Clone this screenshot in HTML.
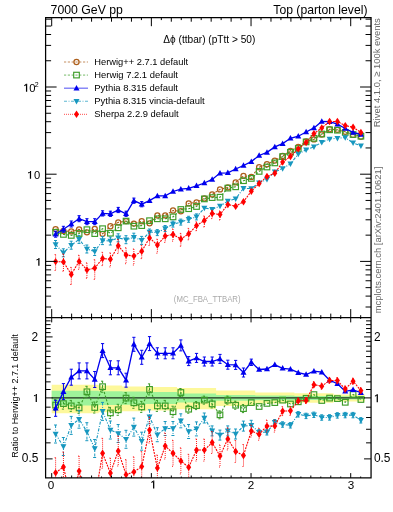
<!DOCTYPE html>
<html><head><meta charset="utf-8"><style>
html,body{margin:0;padding:0;background:#fff;}
svg{display:block;will-change:transform;}
text{font-family:"Liberation Sans", sans-serif;}
</style></head><body>
<svg width="393" height="512" viewBox="0 0 393 512">
<defs>
<clipPath id="cm"><rect x="45.6" y="17.7" width="325.46" height="299.9"/></clipPath>
<clipPath id="cr"><rect x="45.6" y="317.6" width="325.46" height="160.3"/></clipPath>
</defs>
<rect width="393" height="512" fill="#fff"/>
<path d="M51.7,384.8 L59.53,384.8 L59.53,384.8 L67.36,384.8 L67.36,384.8 L75.18,384.8 L75.18,384.8 L83.01,384.8 L83.01,384.8 L90.84,384.8 L90.84,384.8 L98.67,384.8 L98.67,385.6 L106.5,385.6 L106.5,385.6 L114.32,385.6 L114.32,385.6 L122.15,385.6 L122.15,386.4 L129.98,386.4 L129.98,386.4 L137.81,386.4 L137.81,386.4 L145.64,386.4 L145.64,386.9 L153.46,386.9 L153.46,386.9 L161.29,386.9 L161.29,386.9 L169.12,386.9 L169.12,386.9 L176.95,386.9 L176.95,387.9 L184.78,387.9 L184.78,387.9 L192.6,387.9 L192.6,387.9 L200.43,387.9 L200.43,387.9 L208.26,387.9 L208.26,387.9 L216.09,387.9 L216.09,390.4 L223.92,390.4 L223.92,390.4 L231.74,390.4 L231.74,390.4 L239.57,390.4 L239.57,390.4 L247.4,390.4 L247.4,390.4 L255.23,390.4 L255.23,392.6 L263.06,392.6 L263.06,392.6 L270.88,392.6 L270.88,392.6 L278.71,392.6 L278.71,392.6 L286.54,392.6 L286.54,392.6 L294.37,392.6 L294.37,393.3 L302.2,393.3 L302.2,393.3 L310.02,393.3 L310.02,393.3 L317.85,393.3 L317.85,393.3 L325.68,393.3 L325.68,393.3 L333.51,393.3 L333.51,394.4 L341.34,394.4 L341.34,394.4 L349.16,394.4 L349.16,394.4 L356.99,394.4 L356.99,394.4 L364.82,394.4 L364.82,401.55 L356.99,401.55 L356.99,401.55 L349.16,401.55 L349.16,401.55 L341.34,401.55 L341.34,401.55 L333.51,401.55 L333.51,402.75 L325.68,402.75 L325.68,402.75 L317.85,402.75 L317.85,402.75 L310.02,402.75 L310.02,402.75 L302.2,402.75 L302.2,402.75 L294.37,402.75 L294.37,403.54 L286.54,403.54 L286.54,403.54 L278.71,403.54 L278.71,403.54 L270.88,403.54 L270.88,403.54 L263.06,403.54 L263.06,403.54 L255.23,403.54 L255.23,406.1 L247.4,406.1 L247.4,406.1 L239.57,406.1 L239.57,406.1 L231.74,406.1 L231.74,406.1 L223.92,406.1 L223.92,406.1 L216.09,406.1 L216.09,409.18 L208.26,409.18 L208.26,409.18 L200.43,409.18 L200.43,409.18 L192.6,409.18 L192.6,409.18 L184.78,409.18 L184.78,409.18 L176.95,409.18 L176.95,410.47 L169.12,410.47 L169.12,410.47 L161.29,410.47 L161.29,410.47 L153.46,410.47 L153.46,410.47 L145.64,410.47 L145.64,411.13 L137.81,411.13 L137.81,411.13 L129.98,411.13 L129.98,411.13 L122.15,411.13 L122.15,412.2 L114.32,412.2 L114.32,412.2 L106.5,412.2 L106.5,412.2 L98.67,412.2 L98.67,413.3 L90.84,413.3 L90.84,413.3 L83.01,413.3 L83.01,413.3 L75.18,413.3 L75.18,413.3 L67.36,413.3 L67.36,413.3 L59.53,413.3 L59.53,413.3 L51.7,413.3Z" fill="#fdf89b"/>
<path d="M51.7,390.8 L59.53,390.8 L59.53,390.8 L67.36,390.8 L67.36,390.8 L75.18,390.8 L75.18,390.8 L83.01,390.8 L83.01,390.8 L90.84,390.8 L90.84,390.8 L98.67,390.8 L98.67,391.3 L106.5,391.3 L106.5,391.3 L114.32,391.3 L114.32,391.3 L122.15,391.3 L122.15,391.6 L129.98,391.6 L129.98,391.6 L137.81,391.6 L137.81,391.6 L145.64,391.6 L145.64,392.1 L153.46,392.1 L153.46,392.1 L161.29,392.1 L161.29,392.1 L169.12,392.1 L169.12,392.1 L176.95,392.1 L176.95,393.6 L184.78,393.6 L184.78,393.6 L192.6,393.6 L192.6,393.6 L200.43,393.6 L200.43,393.6 L208.26,393.6 L208.26,393.6 L216.09,393.6 L216.09,395.1 L223.92,395.1 L223.92,395.1 L231.74,395.1 L231.74,395.1 L239.57,395.1 L239.57,395.1 L247.4,395.1 L247.4,395.1 L255.23,395.1 L255.23,395.6 L263.06,395.6 L263.06,395.6 L270.88,395.6 L270.88,395.6 L278.71,395.6 L278.71,395.6 L286.54,395.6 L286.54,395.6 L294.37,395.6 L294.37,395.9 L302.2,395.9 L302.2,395.9 L310.02,395.9 L310.02,395.9 L317.85,395.9 L317.85,395.9 L325.68,395.9 L325.68,395.9 L333.51,395.9 L333.51,396.3 L341.34,396.3 L341.34,396.3 L349.16,396.3 L349.16,396.3 L356.99,396.3 L356.99,396.3 L364.82,396.3 L364.82,399.53 L356.99,399.53 L356.99,399.53 L349.16,399.53 L349.16,399.53 L341.34,399.53 L341.34,399.53 L333.51,399.53 L333.51,399.95 L325.68,399.95 L325.68,399.95 L317.85,399.95 L317.85,399.95 L310.02,399.95 L310.02,399.95 L302.2,399.95 L302.2,399.95 L294.37,399.95 L294.37,400.26 L286.54,400.26 L286.54,400.26 L278.71,400.26 L278.71,400.26 L270.88,400.26 L270.88,400.26 L263.06,400.26 L263.06,400.26 L255.23,400.26 L255.23,400.79 L247.4,400.79 L247.4,400.79 L239.57,400.79 L239.57,400.79 L231.74,400.79 L231.74,400.79 L223.92,400.79 L223.92,400.79 L216.09,400.79 L216.09,402.42 L208.26,402.42 L208.26,402.42 L200.43,402.42 L200.43,402.42 L192.6,402.42 L192.6,402.42 L184.78,402.42 L184.78,402.42 L176.95,402.42 L176.95,404.11 L169.12,404.11 L169.12,404.11 L161.29,404.11 L161.29,404.11 L153.46,404.11 L153.46,404.11 L145.64,404.11 L145.64,404.69 L137.81,404.69 L137.81,404.69 L129.98,404.69 L129.98,404.69 L122.15,404.69 L122.15,405.04 L114.32,405.04 L114.32,405.04 L106.5,405.04 L106.5,405.04 L98.67,405.04 L98.67,405.62 L90.84,405.62 L90.84,405.62 L83.01,405.62 L83.01,405.62 L75.18,405.62 L75.18,405.62 L67.36,405.62 L67.36,405.62 L59.53,405.62 L59.53,405.62 L51.7,405.62Z" fill="#9ef39a"/>
<line x1="51.7" y1="397.9" x2="364.82" y2="397.9" stroke="#1e2e1e" stroke-width="1.1"/>
<g clip-path="url(#cm)">
<polyline points="55.61,229.1 63.44,231 71.27,231.4 79.1,229.3 86.93,232.3 94.75,228.9 102.58,233.8 110.41,226.2 118.24,222.4 126.07,221.1 133.89,223.6 141.72,221.2 149.55,223.3 157.38,215.4 165.21,215.4 173.03,210.5 180.86,211.2 188.69,203.4 196.52,202.3 204.35,198.5 212.17,194.4 220,189.4 227.83,187.4 235.66,182.4 243.49,175.9 251.31,176.9 259.14,167.2 266.97,164.2 274.8,160.6 282.63,156 290.45,150.8 298.28,147 306.11,141.3 313.94,139.4 321.77,134.5 329.59,129.2 337.42,129.8 345.25,131.7 353.08,134.9 360.91,136.8" fill="none" stroke="#ad5f1c" stroke-width="1.1" stroke-dasharray="2.2,1.6"/>
<circle cx="55.61" cy="229.1" r="2.55" fill="none" stroke="#ad5f1c" stroke-width="1.25"/>
<circle cx="63.44" cy="231" r="2.55" fill="none" stroke="#ad5f1c" stroke-width="1.25"/>
<circle cx="71.27" cy="231.4" r="2.55" fill="none" stroke="#ad5f1c" stroke-width="1.25"/>
<circle cx="79.1" cy="229.3" r="2.55" fill="none" stroke="#ad5f1c" stroke-width="1.25"/>
<circle cx="86.93" cy="232.3" r="2.55" fill="none" stroke="#ad5f1c" stroke-width="1.25"/>
<circle cx="94.75" cy="228.9" r="2.55" fill="none" stroke="#ad5f1c" stroke-width="1.25"/>
<circle cx="102.58" cy="233.8" r="2.55" fill="none" stroke="#ad5f1c" stroke-width="1.25"/>
<circle cx="110.41" cy="226.2" r="2.55" fill="none" stroke="#ad5f1c" stroke-width="1.25"/>
<circle cx="118.24" cy="222.4" r="2.55" fill="none" stroke="#ad5f1c" stroke-width="1.25"/>
<circle cx="126.07" cy="221.1" r="2.55" fill="none" stroke="#ad5f1c" stroke-width="1.25"/>
<circle cx="133.89" cy="223.6" r="2.55" fill="none" stroke="#ad5f1c" stroke-width="1.25"/>
<circle cx="141.72" cy="221.2" r="2.55" fill="none" stroke="#ad5f1c" stroke-width="1.25"/>
<circle cx="149.55" cy="223.3" r="2.55" fill="none" stroke="#ad5f1c" stroke-width="1.25"/>
<circle cx="157.38" cy="215.4" r="2.55" fill="none" stroke="#ad5f1c" stroke-width="1.25"/>
<circle cx="165.21" cy="215.4" r="2.55" fill="none" stroke="#ad5f1c" stroke-width="1.25"/>
<circle cx="173.03" cy="210.5" r="2.55" fill="none" stroke="#ad5f1c" stroke-width="1.25"/>
<circle cx="180.86" cy="211.2" r="2.55" fill="none" stroke="#ad5f1c" stroke-width="1.25"/>
<circle cx="188.69" cy="203.4" r="2.55" fill="none" stroke="#ad5f1c" stroke-width="1.25"/>
<circle cx="196.52" cy="202.3" r="2.55" fill="none" stroke="#ad5f1c" stroke-width="1.25"/>
<circle cx="204.35" cy="198.5" r="2.55" fill="none" stroke="#ad5f1c" stroke-width="1.25"/>
<circle cx="212.17" cy="194.4" r="2.55" fill="none" stroke="#ad5f1c" stroke-width="1.25"/>
<circle cx="220" cy="189.4" r="2.55" fill="none" stroke="#ad5f1c" stroke-width="1.25"/>
<circle cx="227.83" cy="187.4" r="2.55" fill="none" stroke="#ad5f1c" stroke-width="1.25"/>
<circle cx="235.66" cy="182.4" r="2.55" fill="none" stroke="#ad5f1c" stroke-width="1.25"/>
<circle cx="243.49" cy="175.9" r="2.55" fill="none" stroke="#ad5f1c" stroke-width="1.25"/>
<circle cx="251.31" cy="176.9" r="2.55" fill="none" stroke="#ad5f1c" stroke-width="1.25"/>
<circle cx="259.14" cy="167.2" r="2.55" fill="none" stroke="#ad5f1c" stroke-width="1.25"/>
<circle cx="266.97" cy="164.2" r="2.55" fill="none" stroke="#ad5f1c" stroke-width="1.25"/>
<circle cx="274.8" cy="160.6" r="2.55" fill="none" stroke="#ad5f1c" stroke-width="1.25"/>
<circle cx="282.63" cy="156" r="2.55" fill="none" stroke="#ad5f1c" stroke-width="1.25"/>
<circle cx="290.45" cy="150.8" r="2.55" fill="none" stroke="#ad5f1c" stroke-width="1.25"/>
<circle cx="298.28" cy="147" r="2.55" fill="none" stroke="#ad5f1c" stroke-width="1.25"/>
<circle cx="306.11" cy="141.3" r="2.55" fill="none" stroke="#ad5f1c" stroke-width="1.25"/>
<circle cx="313.94" cy="139.4" r="2.55" fill="none" stroke="#ad5f1c" stroke-width="1.25"/>
<circle cx="321.77" cy="134.5" r="2.55" fill="none" stroke="#ad5f1c" stroke-width="1.25"/>
<circle cx="329.59" cy="129.2" r="2.55" fill="none" stroke="#ad5f1c" stroke-width="1.25"/>
<circle cx="337.42" cy="129.8" r="2.55" fill="none" stroke="#ad5f1c" stroke-width="1.25"/>
<circle cx="345.25" cy="131.7" r="2.55" fill="none" stroke="#ad5f1c" stroke-width="1.25"/>
<circle cx="353.08" cy="134.9" r="2.55" fill="none" stroke="#ad5f1c" stroke-width="1.25"/>
<circle cx="360.91" cy="136.8" r="2.55" fill="none" stroke="#ad5f1c" stroke-width="1.25"/>
</g>
<g clip-path="url(#cm)">
<polyline points="55.61,232.3 63.44,234.4 71.27,235.4 79.1,233.5 86.93,229.7 94.75,233.6 102.58,228.7 110.41,233.2 118.24,227.8 126.07,221.1 133.89,226.2 141.72,225.6 149.55,220.7 157.38,218.8 165.21,218.8 173.03,216.9 180.86,209.5 188.69,208.7 196.52,206.5 204.35,198.9 212.17,197.6 220,197.2 227.83,188.1 235.66,186.8 243.49,180.7 251.31,178.4 259.14,171.4 266.97,167 274.8,162.9 282.63,156.6 290.45,152.3 298.28,148.5 306.11,141.9 313.94,138.3 321.77,134 329.59,129.8 337.42,130.2 345.25,132.4 353.08,134.5 360.91,136.2" fill="none" stroke="#3c9c28" stroke-width="1.1" stroke-dasharray="2.2,1.6"/>
<rect x="52.81" y="229.5" width="5.6" height="5.6" fill="none" stroke="#3c9c28" stroke-width="1.15"/>
<rect x="60.64" y="231.6" width="5.6" height="5.6" fill="none" stroke="#3c9c28" stroke-width="1.15"/>
<rect x="68.47" y="232.6" width="5.6" height="5.6" fill="none" stroke="#3c9c28" stroke-width="1.15"/>
<rect x="76.3" y="230.7" width="5.6" height="5.6" fill="none" stroke="#3c9c28" stroke-width="1.15"/>
<rect x="84.13" y="226.9" width="5.6" height="5.6" fill="none" stroke="#3c9c28" stroke-width="1.15"/>
<rect x="91.95" y="230.8" width="5.6" height="5.6" fill="none" stroke="#3c9c28" stroke-width="1.15"/>
<rect x="99.78" y="225.9" width="5.6" height="5.6" fill="none" stroke="#3c9c28" stroke-width="1.15"/>
<rect x="107.61" y="230.4" width="5.6" height="5.6" fill="none" stroke="#3c9c28" stroke-width="1.15"/>
<rect x="115.44" y="225" width="5.6" height="5.6" fill="none" stroke="#3c9c28" stroke-width="1.15"/>
<rect x="123.27" y="218.3" width="5.6" height="5.6" fill="none" stroke="#3c9c28" stroke-width="1.15"/>
<rect x="131.09" y="223.4" width="5.6" height="5.6" fill="none" stroke="#3c9c28" stroke-width="1.15"/>
<rect x="138.92" y="222.8" width="5.6" height="5.6" fill="none" stroke="#3c9c28" stroke-width="1.15"/>
<rect x="146.75" y="217.9" width="5.6" height="5.6" fill="none" stroke="#3c9c28" stroke-width="1.15"/>
<rect x="154.58" y="216" width="5.6" height="5.6" fill="none" stroke="#3c9c28" stroke-width="1.15"/>
<rect x="162.41" y="216" width="5.6" height="5.6" fill="none" stroke="#3c9c28" stroke-width="1.15"/>
<rect x="170.23" y="214.1" width="5.6" height="5.6" fill="none" stroke="#3c9c28" stroke-width="1.15"/>
<rect x="178.06" y="206.7" width="5.6" height="5.6" fill="none" stroke="#3c9c28" stroke-width="1.15"/>
<rect x="185.89" y="205.9" width="5.6" height="5.6" fill="none" stroke="#3c9c28" stroke-width="1.15"/>
<rect x="193.72" y="203.7" width="5.6" height="5.6" fill="none" stroke="#3c9c28" stroke-width="1.15"/>
<rect x="201.55" y="196.1" width="5.6" height="5.6" fill="none" stroke="#3c9c28" stroke-width="1.15"/>
<rect x="209.37" y="194.8" width="5.6" height="5.6" fill="none" stroke="#3c9c28" stroke-width="1.15"/>
<rect x="217.2" y="194.4" width="5.6" height="5.6" fill="none" stroke="#3c9c28" stroke-width="1.15"/>
<rect x="225.03" y="185.3" width="5.6" height="5.6" fill="none" stroke="#3c9c28" stroke-width="1.15"/>
<rect x="232.86" y="184" width="5.6" height="5.6" fill="none" stroke="#3c9c28" stroke-width="1.15"/>
<rect x="240.69" y="177.9" width="5.6" height="5.6" fill="none" stroke="#3c9c28" stroke-width="1.15"/>
<rect x="248.51" y="175.6" width="5.6" height="5.6" fill="none" stroke="#3c9c28" stroke-width="1.15"/>
<rect x="256.34" y="168.6" width="5.6" height="5.6" fill="none" stroke="#3c9c28" stroke-width="1.15"/>
<rect x="264.17" y="164.2" width="5.6" height="5.6" fill="none" stroke="#3c9c28" stroke-width="1.15"/>
<rect x="272" y="160.1" width="5.6" height="5.6" fill="none" stroke="#3c9c28" stroke-width="1.15"/>
<rect x="279.83" y="153.8" width="5.6" height="5.6" fill="none" stroke="#3c9c28" stroke-width="1.15"/>
<rect x="287.65" y="149.5" width="5.6" height="5.6" fill="none" stroke="#3c9c28" stroke-width="1.15"/>
<rect x="295.48" y="145.7" width="5.6" height="5.6" fill="none" stroke="#3c9c28" stroke-width="1.15"/>
<rect x="303.31" y="139.1" width="5.6" height="5.6" fill="none" stroke="#3c9c28" stroke-width="1.15"/>
<rect x="311.14" y="135.5" width="5.6" height="5.6" fill="none" stroke="#3c9c28" stroke-width="1.15"/>
<rect x="318.97" y="131.2" width="5.6" height="5.6" fill="none" stroke="#3c9c28" stroke-width="1.15"/>
<rect x="326.79" y="127" width="5.6" height="5.6" fill="none" stroke="#3c9c28" stroke-width="1.15"/>
<rect x="334.62" y="127.4" width="5.6" height="5.6" fill="none" stroke="#3c9c28" stroke-width="1.15"/>
<rect x="342.45" y="129.6" width="5.6" height="5.6" fill="none" stroke="#3c9c28" stroke-width="1.15"/>
<rect x="350.28" y="131.7" width="5.6" height="5.6" fill="none" stroke="#3c9c28" stroke-width="1.15"/>
<rect x="358.11" y="133.4" width="5.6" height="5.6" fill="none" stroke="#3c9c28" stroke-width="1.15"/>
</g>
<g clip-path="url(#cm)">
<polyline points="55.61,234.2 63.44,229.3 71.27,224 79.1,218.7 86.93,221.7 94.75,221.7 102.58,213.4 110.41,213.8 118.24,210 126.07,213.8 133.89,200.7 141.72,204.2 149.55,200.6 157.38,195.9 165.21,195.9 173.03,191.5 180.86,189.2 188.69,188.3 196.52,185.8 204.35,183 212.17,179.4 220,173.1 227.83,172.8 235.66,169 243.49,165.5 251.31,161.6 259.14,155.5 266.97,152.4 274.8,146.9 282.63,143.6 290.45,138.3 298.28,136.2 306.11,132 313.94,127.9 321.77,121.5 329.59,121.6 337.42,124.1 345.25,128.5 353.08,132.4 360.91,134.5" fill="none" stroke="#0000ee" stroke-width="1.3"/>
<path d="M55.61,231.2V237.2M54.01,231.2H57.21M54.01,237.2H57.21M63.44,226.3V232.3M61.84,226.3H65.04M61.84,232.3H65.04M71.27,221V227M69.67,221H72.87M69.67,227H72.87M79.1,215.7V221.7M77.5,215.7H80.7M77.5,221.7H80.7M86.93,218.7V224.7M85.33,218.7H88.53M85.33,224.7H88.53M94.75,218.7V224.7M93.15,218.7H96.35M93.15,224.7H96.35M102.58,210.8V216M100.98,210.8H104.18M100.98,216H104.18M110.41,211.2V216.4M108.81,211.2H112.01M108.81,216.4H112.01M118.24,207.4V212.6M116.64,207.4H119.84M116.64,212.6H119.84M126.07,211.2V216.4M124.47,211.2H127.67M124.47,216.4H127.67M133.89,198.1V203.3M132.29,198.1H135.49M132.29,203.3H135.49M141.72,201.6V206.8M140.12,201.6H143.32M140.12,206.8H143.32" fill="none" stroke="#0000ee" stroke-width="1.0"/>
<path d="M55.61,231 L58.61,236.5 L52.61,236.5 Z" fill="#0000ee"/>
<path d="M63.44,226.1 L66.44,231.6 L60.44,231.6 Z" fill="#0000ee"/>
<path d="M71.27,220.8 L74.27,226.3 L68.27,226.3 Z" fill="#0000ee"/>
<path d="M79.1,215.5 L82.1,221 L76.1,221 Z" fill="#0000ee"/>
<path d="M86.93,218.5 L89.93,224 L83.93,224 Z" fill="#0000ee"/>
<path d="M94.75,218.5 L97.75,224 L91.75,224 Z" fill="#0000ee"/>
<path d="M102.58,210.2 L105.58,215.7 L99.58,215.7 Z" fill="#0000ee"/>
<path d="M110.41,210.6 L113.41,216.1 L107.41,216.1 Z" fill="#0000ee"/>
<path d="M118.24,206.8 L121.24,212.3 L115.24,212.3 Z" fill="#0000ee"/>
<path d="M126.07,210.6 L129.07,216.1 L123.07,216.1 Z" fill="#0000ee"/>
<path d="M133.89,197.5 L136.89,203 L130.89,203 Z" fill="#0000ee"/>
<path d="M141.72,201 L144.72,206.5 L138.72,206.5 Z" fill="#0000ee"/>
<path d="M149.55,197.4 L152.55,202.9 L146.55,202.9 Z" fill="#0000ee"/>
<path d="M157.38,192.7 L160.38,198.2 L154.38,198.2 Z" fill="#0000ee"/>
<path d="M165.21,192.7 L168.21,198.2 L162.21,198.2 Z" fill="#0000ee"/>
<path d="M173.03,188.3 L176.03,193.8 L170.03,193.8 Z" fill="#0000ee"/>
<path d="M180.86,186 L183.86,191.5 L177.86,191.5 Z" fill="#0000ee"/>
<path d="M188.69,185.1 L191.69,190.6 L185.69,190.6 Z" fill="#0000ee"/>
<path d="M196.52,182.6 L199.52,188.1 L193.52,188.1 Z" fill="#0000ee"/>
<path d="M204.35,179.8 L207.35,185.3 L201.35,185.3 Z" fill="#0000ee"/>
<path d="M212.17,176.2 L215.17,181.7 L209.17,181.7 Z" fill="#0000ee"/>
<path d="M220,169.9 L223,175.4 L217,175.4 Z" fill="#0000ee"/>
<path d="M227.83,169.6 L230.83,175.1 L224.83,175.1 Z" fill="#0000ee"/>
<path d="M235.66,165.8 L238.66,171.3 L232.66,171.3 Z" fill="#0000ee"/>
<path d="M243.49,162.3 L246.49,167.8 L240.49,167.8 Z" fill="#0000ee"/>
<path d="M251.31,158.4 L254.31,163.9 L248.31,163.9 Z" fill="#0000ee"/>
<path d="M259.14,152.3 L262.14,157.8 L256.14,157.8 Z" fill="#0000ee"/>
<path d="M266.97,149.2 L269.97,154.7 L263.97,154.7 Z" fill="#0000ee"/>
<path d="M274.8,143.7 L277.8,149.2 L271.8,149.2 Z" fill="#0000ee"/>
<path d="M282.63,140.4 L285.63,145.9 L279.63,145.9 Z" fill="#0000ee"/>
<path d="M290.45,135.1 L293.45,140.6 L287.45,140.6 Z" fill="#0000ee"/>
<path d="M298.28,133 L301.28,138.5 L295.28,138.5 Z" fill="#0000ee"/>
<path d="M306.11,128.8 L309.11,134.3 L303.11,134.3 Z" fill="#0000ee"/>
<path d="M313.94,124.7 L316.94,130.2 L310.94,130.2 Z" fill="#0000ee"/>
<path d="M321.77,118.3 L324.77,123.8 L318.77,123.8 Z" fill="#0000ee"/>
<path d="M329.59,118.4 L332.59,123.9 L326.59,123.9 Z" fill="#0000ee"/>
<path d="M337.42,120.9 L340.42,126.4 L334.42,126.4 Z" fill="#0000ee"/>
<path d="M345.25,125.3 L348.25,130.8 L342.25,130.8 Z" fill="#0000ee"/>
<path d="M353.08,129.2 L356.08,134.7 L350.08,134.7 Z" fill="#0000ee"/>
<path d="M360.91,131.3 L363.91,136.8 L357.91,136.8 Z" fill="#0000ee"/>
</g>
<g clip-path="url(#cm)">
<polyline points="55.61,244.5 63.44,252.8 71.27,245.2 79.1,239.4 86.93,249 94.75,251.5 102.58,240.6 110.41,241 118.24,237.8 126.07,239.7 133.89,237.2 141.72,240.4 149.55,232 157.38,232.6 165.21,228.5 173.03,224.1 180.86,222.1 188.69,219.3 196.52,216.9 204.35,208 212.17,209.2 220,206.1 227.83,201.1 235.66,198.8 243.49,188.3 251.31,188.6 259.14,182.8 266.97,179.4 274.8,171.8 282.63,168.6 290.45,163.7 298.28,154.1 306.11,149.7 313.94,146.8 321.77,142.4 329.59,139 337.42,138.2 345.25,137.6 353.08,142.9 360.91,145.9" fill="none" stroke="#1797bf" stroke-width="1.1" stroke-dasharray="3,1.5,1,1.5"/>
<path d="M55.61,240.5V248.5M54.01,240.5H57.21M54.01,248.5H57.21M63.44,248.8V256.8M61.84,248.8H65.04M61.84,256.8H65.04M71.27,241.2V249.2M69.67,241.2H72.87M69.67,249.2H72.87M79.1,235.4V243.4M77.5,235.4H80.7M77.5,243.4H80.7M86.93,245V253M85.33,245H88.53M85.33,253H88.53M94.75,247.5V255.5M93.15,247.5H96.35M93.15,255.5H96.35M102.58,236.6V244.6M100.98,236.6H104.18M100.98,244.6H104.18M110.41,237V245M108.81,237H112.01M108.81,245H112.01M118.24,233.8V241.8M116.64,233.8H119.84M116.64,241.8H119.84M126.07,235.7V243.7M124.47,235.7H127.67M124.47,243.7H127.67M133.89,233.2V241.2M132.29,233.2H135.49M132.29,241.2H135.49M141.72,236.4V244.4M140.12,236.4H143.32M140.12,244.4H143.32M149.55,229V235M147.95,229H151.15M147.95,235H151.15M157.38,229.6V235.6M155.78,229.6H158.98M155.78,235.6H158.98M165.21,225.5V231.5M163.61,225.5H166.81M163.61,231.5H166.81M173.03,221.1V227.1M171.43,221.1H174.63M171.43,227.1H174.63M180.86,219.1V225.1M179.26,219.1H182.46M179.26,225.1H182.46M188.69,216.3V222.3M187.09,216.3H190.29M187.09,222.3H190.29M196.52,213.9V219.9M194.92,213.9H198.12M194.92,219.9H198.12" fill="none" stroke="#1797bf" stroke-width="1.0" stroke-dasharray="3,1.5,1,1.5"/>
<path d="M55.61,247.7 L58.61,242.2 L52.61,242.2 Z" fill="#1797bf"/>
<path d="M63.44,256 L66.44,250.5 L60.44,250.5 Z" fill="#1797bf"/>
<path d="M71.27,248.4 L74.27,242.9 L68.27,242.9 Z" fill="#1797bf"/>
<path d="M79.1,242.6 L82.1,237.1 L76.1,237.1 Z" fill="#1797bf"/>
<path d="M86.93,252.2 L89.93,246.7 L83.93,246.7 Z" fill="#1797bf"/>
<path d="M94.75,254.7 L97.75,249.2 L91.75,249.2 Z" fill="#1797bf"/>
<path d="M102.58,243.8 L105.58,238.3 L99.58,238.3 Z" fill="#1797bf"/>
<path d="M110.41,244.2 L113.41,238.7 L107.41,238.7 Z" fill="#1797bf"/>
<path d="M118.24,241 L121.24,235.5 L115.24,235.5 Z" fill="#1797bf"/>
<path d="M126.07,242.9 L129.07,237.4 L123.07,237.4 Z" fill="#1797bf"/>
<path d="M133.89,240.4 L136.89,234.9 L130.89,234.9 Z" fill="#1797bf"/>
<path d="M141.72,243.6 L144.72,238.1 L138.72,238.1 Z" fill="#1797bf"/>
<path d="M149.55,235.2 L152.55,229.7 L146.55,229.7 Z" fill="#1797bf"/>
<path d="M157.38,235.8 L160.38,230.3 L154.38,230.3 Z" fill="#1797bf"/>
<path d="M165.21,231.7 L168.21,226.2 L162.21,226.2 Z" fill="#1797bf"/>
<path d="M173.03,227.3 L176.03,221.8 L170.03,221.8 Z" fill="#1797bf"/>
<path d="M180.86,225.3 L183.86,219.8 L177.86,219.8 Z" fill="#1797bf"/>
<path d="M188.69,222.5 L191.69,217 L185.69,217 Z" fill="#1797bf"/>
<path d="M196.52,220.1 L199.52,214.6 L193.52,214.6 Z" fill="#1797bf"/>
<path d="M204.35,211.2 L207.35,205.7 L201.35,205.7 Z" fill="#1797bf"/>
<path d="M212.17,212.4 L215.17,206.9 L209.17,206.9 Z" fill="#1797bf"/>
<path d="M220,209.3 L223,203.8 L217,203.8 Z" fill="#1797bf"/>
<path d="M227.83,204.3 L230.83,198.8 L224.83,198.8 Z" fill="#1797bf"/>
<path d="M235.66,202 L238.66,196.5 L232.66,196.5 Z" fill="#1797bf"/>
<path d="M243.49,191.5 L246.49,186 L240.49,186 Z" fill="#1797bf"/>
<path d="M251.31,191.8 L254.31,186.3 L248.31,186.3 Z" fill="#1797bf"/>
<path d="M259.14,186 L262.14,180.5 L256.14,180.5 Z" fill="#1797bf"/>
<path d="M266.97,182.6 L269.97,177.1 L263.97,177.1 Z" fill="#1797bf"/>
<path d="M274.8,175 L277.8,169.5 L271.8,169.5 Z" fill="#1797bf"/>
<path d="M282.63,171.8 L285.63,166.3 L279.63,166.3 Z" fill="#1797bf"/>
<path d="M290.45,166.9 L293.45,161.4 L287.45,161.4 Z" fill="#1797bf"/>
<path d="M298.28,157.3 L301.28,151.8 L295.28,151.8 Z" fill="#1797bf"/>
<path d="M306.11,152.9 L309.11,147.4 L303.11,147.4 Z" fill="#1797bf"/>
<path d="M313.94,150 L316.94,144.5 L310.94,144.5 Z" fill="#1797bf"/>
<path d="M321.77,145.6 L324.77,140.1 L318.77,140.1 Z" fill="#1797bf"/>
<path d="M329.59,142.2 L332.59,136.7 L326.59,136.7 Z" fill="#1797bf"/>
<path d="M337.42,141.4 L340.42,135.9 L334.42,135.9 Z" fill="#1797bf"/>
<path d="M345.25,140.8 L348.25,135.3 L342.25,135.3 Z" fill="#1797bf"/>
<path d="M353.08,146.1 L356.08,140.6 L350.08,140.6 Z" fill="#1797bf"/>
<path d="M360.91,149.1 L363.91,143.6 L357.91,143.6 Z" fill="#1797bf"/>
</g>
<g clip-path="url(#cm)">
<polyline points="55.61,261.6 63.44,261.9 71.27,274.4 79.1,261.4 86.93,269.9 94.75,268.1 102.58,258.5 110.41,259.2 118.24,245.7 126.07,255 133.89,256.1 141.72,251.3 149.55,237.9 157.38,245 165.21,236 173.03,234.5 180.86,239 188.69,233.8 196.52,225.6 204.35,220.5 212.17,213.5 220,214.5 227.83,204.6 235.66,206.2 243.49,201.7 251.31,191.2 259.14,183.5 266.97,176.5 274.8,173.2 282.63,162.1 290.45,156.5 298.28,148.9 306.11,142.5 313.94,133.6 321.77,127.9 329.59,121.5 337.42,121.5 345.25,125.6 353.08,127.3 360.91,132.4" fill="none" stroke="#ff0000" stroke-width="1.1" stroke-dasharray="2,1"/>
<path d="M55.61,254.6V270.5M54.61,254.6H56.61M54.61,270.5H56.61M63.44,254V271.2M62.44,254H64.44M62.44,271.2H64.44M71.27,267.4V284.5M70.27,267.4H72.27M70.27,284.5H72.27M79.1,255.3V269.3M78.1,255.3H80.1M78.1,269.3H80.1M86.93,262.9V278.2M85.93,262.9H87.93M85.93,278.2H87.93M94.75,259.7V279.4M93.75,259.7H95.75M93.75,279.4H95.75M102.58,252.3V265.6M101.58,252.3H103.58M101.58,265.6H103.58M110.41,252.9V266.9M109.41,252.9H111.41M109.41,266.9H111.41M118.24,239.5V253.5M117.24,239.5H119.24M117.24,253.5H119.24M126.07,247.8V263.7M125.07,247.8H127.07M125.07,263.7H127.07M133.89,249V265M132.89,249H134.89M132.89,265H134.89M141.72,245.3V258.6M140.72,245.3H142.72M140.72,258.6H142.72M149.55,231.5V245.5M148.55,231.5H150.55M148.55,245.5H150.55M157.38,239.2V253.2M156.38,239.2H158.38M156.38,253.2H158.38M165.21,230.3V242.4M164.21,230.3H166.21M164.21,242.4H166.21M173.03,229V241.1M172.03,229H174.03M172.03,241.1H174.03M180.86,233.4V246.2M179.86,233.4H181.86M179.86,246.2H181.86M188.69,228.4V239.8M187.69,228.4H189.69M187.69,239.8H189.69M196.52,221.8V230.7M195.52,221.8H197.52M195.52,230.7H197.52M204.35,216V226.9M203.35,216H205.35M203.35,226.9H205.35M212.17,210.4V218.6M211.17,210.4H213.17M211.17,218.6H213.17M220,211V219.9M219,211H221M219,219.9H221" fill="none" stroke="#ff0000" stroke-width="0.9" stroke-dasharray="1,1"/>
<path d="M55.61,257.9 L58.11,261.6 L55.61,265.3 L53.11,261.6 Z" fill="#ff0000"/>
<path d="M63.44,258.2 L65.94,261.9 L63.44,265.6 L60.94,261.9 Z" fill="#ff0000"/>
<path d="M71.27,270.7 L73.77,274.4 L71.27,278.1 L68.77,274.4 Z" fill="#ff0000"/>
<path d="M79.1,257.7 L81.6,261.4 L79.1,265.1 L76.6,261.4 Z" fill="#ff0000"/>
<path d="M86.93,266.2 L89.43,269.9 L86.93,273.6 L84.43,269.9 Z" fill="#ff0000"/>
<path d="M94.75,264.4 L97.25,268.1 L94.75,271.8 L92.25,268.1 Z" fill="#ff0000"/>
<path d="M102.58,254.8 L105.08,258.5 L102.58,262.2 L100.08,258.5 Z" fill="#ff0000"/>
<path d="M110.41,255.5 L112.91,259.2 L110.41,262.9 L107.91,259.2 Z" fill="#ff0000"/>
<path d="M118.24,242 L120.74,245.7 L118.24,249.4 L115.74,245.7 Z" fill="#ff0000"/>
<path d="M126.07,251.3 L128.57,255 L126.07,258.7 L123.57,255 Z" fill="#ff0000"/>
<path d="M133.89,252.4 L136.39,256.1 L133.89,259.8 L131.39,256.1 Z" fill="#ff0000"/>
<path d="M141.72,247.6 L144.22,251.3 L141.72,255 L139.22,251.3 Z" fill="#ff0000"/>
<path d="M149.55,234.2 L152.05,237.9 L149.55,241.6 L147.05,237.9 Z" fill="#ff0000"/>
<path d="M157.38,241.3 L159.88,245 L157.38,248.7 L154.88,245 Z" fill="#ff0000"/>
<path d="M165.21,232.3 L167.71,236 L165.21,239.7 L162.71,236 Z" fill="#ff0000"/>
<path d="M173.03,230.8 L175.53,234.5 L173.03,238.2 L170.53,234.5 Z" fill="#ff0000"/>
<path d="M180.86,235.3 L183.36,239 L180.86,242.7 L178.36,239 Z" fill="#ff0000"/>
<path d="M188.69,230.1 L191.19,233.8 L188.69,237.5 L186.19,233.8 Z" fill="#ff0000"/>
<path d="M196.52,221.9 L199.02,225.6 L196.52,229.3 L194.02,225.6 Z" fill="#ff0000"/>
<path d="M204.35,216.8 L206.85,220.5 L204.35,224.2 L201.85,220.5 Z" fill="#ff0000"/>
<path d="M212.17,209.8 L214.67,213.5 L212.17,217.2 L209.67,213.5 Z" fill="#ff0000"/>
<path d="M220,210.8 L222.5,214.5 L220,218.2 L217.5,214.5 Z" fill="#ff0000"/>
<path d="M227.83,200.9 L230.33,204.6 L227.83,208.3 L225.33,204.6 Z" fill="#ff0000"/>
<path d="M235.66,202.5 L238.16,206.2 L235.66,209.9 L233.16,206.2 Z" fill="#ff0000"/>
<path d="M243.49,198 L245.99,201.7 L243.49,205.4 L240.99,201.7 Z" fill="#ff0000"/>
<path d="M251.31,187.5 L253.81,191.2 L251.31,194.9 L248.81,191.2 Z" fill="#ff0000"/>
<path d="M259.14,179.8 L261.64,183.5 L259.14,187.2 L256.64,183.5 Z" fill="#ff0000"/>
<path d="M266.97,172.8 L269.47,176.5 L266.97,180.2 L264.47,176.5 Z" fill="#ff0000"/>
<path d="M274.8,169.5 L277.3,173.2 L274.8,176.9 L272.3,173.2 Z" fill="#ff0000"/>
<path d="M282.63,158.4 L285.13,162.1 L282.63,165.8 L280.13,162.1 Z" fill="#ff0000"/>
<path d="M290.45,152.8 L292.95,156.5 L290.45,160.2 L287.95,156.5 Z" fill="#ff0000"/>
<path d="M298.28,145.2 L300.78,148.9 L298.28,152.6 L295.78,148.9 Z" fill="#ff0000"/>
<path d="M306.11,138.8 L308.61,142.5 L306.11,146.2 L303.61,142.5 Z" fill="#ff0000"/>
<path d="M313.94,129.9 L316.44,133.6 L313.94,137.3 L311.44,133.6 Z" fill="#ff0000"/>
<path d="M321.77,124.2 L324.27,127.9 L321.77,131.6 L319.27,127.9 Z" fill="#ff0000"/>
<path d="M329.59,117.8 L332.09,121.5 L329.59,125.2 L327.09,121.5 Z" fill="#ff0000"/>
<path d="M337.42,117.8 L339.92,121.5 L337.42,125.2 L334.92,121.5 Z" fill="#ff0000"/>
<path d="M345.25,121.9 L347.75,125.6 L345.25,129.3 L342.75,125.6 Z" fill="#ff0000"/>
<path d="M353.08,123.6 L355.58,127.3 L353.08,131 L350.58,127.3 Z" fill="#ff0000"/>
<path d="M360.91,128.7 L363.41,132.4 L360.91,136.1 L358.41,132.4 Z" fill="#ff0000"/>
</g>
<g clip-path="url(#cr)">
<polyline points="55.61,405.1 63.44,403.6 71.27,405.9 79.1,407.9 86.93,391.8 94.75,407.5 102.58,386.7 110.41,412.9 118.24,409.8 126.07,398.1 133.89,402.8 141.72,406.9 149.55,389.4 157.38,405.9 165.21,405.9 173.03,411.7 180.86,392.5 188.69,409.2 196.52,405.6 204.35,400.1 212.17,403.9 220,414.8 227.83,400.1 235.66,405.2 243.49,408.6 251.31,402.6 259.14,406.5 266.97,403.4 274.8,402.6 282.63,400.1 290.45,404 298.28,401.8 306.11,398.3 313.94,394.6 321.77,400.5 329.59,398.1 337.42,398.6 345.25,402.3 353.08,394.5 360.91,399.5" fill="none" stroke="#3c9c28" stroke-width="1.1" stroke-dasharray="2.2,1.6"/>
<path d="M55.61,399.6V410.6M54.01,399.6H57.21M54.01,410.6H57.21M63.44,398.1V409.1M61.84,398.1H65.04M61.84,409.1H65.04M71.27,400.4V411.4M69.67,400.4H72.87M69.67,411.4H72.87M79.1,402.4V413.4M77.5,402.4H80.7M77.5,413.4H80.7M86.93,386.3V397.3M85.33,386.3H88.53M85.33,397.3H88.53M94.75,402V413M93.15,402H96.35M93.15,413H96.35M102.58,381.2V392.2M100.98,381.2H104.18M100.98,392.2H104.18M110.41,407.4V418.4M108.81,407.4H112.01M108.81,418.4H112.01M118.24,404.3V415.3M116.64,404.3H119.84M116.64,415.3H119.84M126.07,392.6V403.6M124.47,392.6H127.67M124.47,403.6H127.67M133.89,397.3V408.3M132.29,397.3H135.49M132.29,408.3H135.49M141.72,401.4V412.4M140.12,401.4H143.32M140.12,412.4H143.32M149.55,383.9V394.9M147.95,383.9H151.15M147.95,394.9H151.15M157.38,400.4V411.4M155.78,400.4H158.98M155.78,411.4H158.98M165.21,400.4V411.4M163.61,400.4H166.81M163.61,411.4H166.81M173.03,406.2V417.2M171.43,406.2H174.63M171.43,417.2H174.63M180.86,388.5V396.5M179.26,388.5H182.46M179.26,396.5H182.46M188.69,405.2V413.2M187.09,405.2H190.29M187.09,413.2H190.29M196.52,401.6V409.6M194.92,401.6H198.12M194.92,409.6H198.12M204.35,396.1V404.1M202.75,396.1H205.95M202.75,404.1H205.95M212.17,399.9V407.9M210.57,399.9H213.77M210.57,407.9H213.77M220,410.8V418.8M218.4,410.8H221.6M218.4,418.8H221.6M227.83,396.1V404.1M226.23,396.1H229.43M226.23,404.1H229.43M235.66,401.2V409.2M234.06,401.2H237.26M234.06,409.2H237.26M243.49,404.6V412.6M241.89,404.6H245.09M241.89,412.6H245.09" fill="none" stroke="#3c9c28" stroke-width="1.0" stroke-dasharray="2.2,1.6"/>
<rect x="52.81" y="402.3" width="5.6" height="5.6" fill="none" stroke="#3c9c28" stroke-width="1.15"/>
<rect x="60.64" y="400.8" width="5.6" height="5.6" fill="none" stroke="#3c9c28" stroke-width="1.15"/>
<rect x="68.47" y="403.1" width="5.6" height="5.6" fill="none" stroke="#3c9c28" stroke-width="1.15"/>
<rect x="76.3" y="405.1" width="5.6" height="5.6" fill="none" stroke="#3c9c28" stroke-width="1.15"/>
<rect x="84.13" y="389" width="5.6" height="5.6" fill="none" stroke="#3c9c28" stroke-width="1.15"/>
<rect x="91.95" y="404.7" width="5.6" height="5.6" fill="none" stroke="#3c9c28" stroke-width="1.15"/>
<rect x="99.78" y="383.9" width="5.6" height="5.6" fill="none" stroke="#3c9c28" stroke-width="1.15"/>
<rect x="107.61" y="410.1" width="5.6" height="5.6" fill="none" stroke="#3c9c28" stroke-width="1.15"/>
<rect x="115.44" y="407" width="5.6" height="5.6" fill="none" stroke="#3c9c28" stroke-width="1.15"/>
<rect x="123.27" y="395.3" width="5.6" height="5.6" fill="none" stroke="#3c9c28" stroke-width="1.15"/>
<rect x="131.09" y="400" width="5.6" height="5.6" fill="none" stroke="#3c9c28" stroke-width="1.15"/>
<rect x="138.92" y="404.1" width="5.6" height="5.6" fill="none" stroke="#3c9c28" stroke-width="1.15"/>
<rect x="146.75" y="386.6" width="5.6" height="5.6" fill="none" stroke="#3c9c28" stroke-width="1.15"/>
<rect x="154.58" y="403.1" width="5.6" height="5.6" fill="none" stroke="#3c9c28" stroke-width="1.15"/>
<rect x="162.41" y="403.1" width="5.6" height="5.6" fill="none" stroke="#3c9c28" stroke-width="1.15"/>
<rect x="170.23" y="408.9" width="5.6" height="5.6" fill="none" stroke="#3c9c28" stroke-width="1.15"/>
<rect x="178.06" y="389.7" width="5.6" height="5.6" fill="none" stroke="#3c9c28" stroke-width="1.15"/>
<rect x="185.89" y="406.4" width="5.6" height="5.6" fill="none" stroke="#3c9c28" stroke-width="1.15"/>
<rect x="193.72" y="402.8" width="5.6" height="5.6" fill="none" stroke="#3c9c28" stroke-width="1.15"/>
<rect x="201.55" y="397.3" width="5.6" height="5.6" fill="none" stroke="#3c9c28" stroke-width="1.15"/>
<rect x="209.37" y="401.1" width="5.6" height="5.6" fill="none" stroke="#3c9c28" stroke-width="1.15"/>
<rect x="217.2" y="412" width="5.6" height="5.6" fill="none" stroke="#3c9c28" stroke-width="1.15"/>
<rect x="225.03" y="397.3" width="5.6" height="5.6" fill="none" stroke="#3c9c28" stroke-width="1.15"/>
<rect x="232.86" y="402.4" width="5.6" height="5.6" fill="none" stroke="#3c9c28" stroke-width="1.15"/>
<rect x="240.69" y="405.8" width="5.6" height="5.6" fill="none" stroke="#3c9c28" stroke-width="1.15"/>
<rect x="248.51" y="399.8" width="5.6" height="5.6" fill="none" stroke="#3c9c28" stroke-width="1.15"/>
<rect x="256.34" y="403.7" width="5.6" height="5.6" fill="none" stroke="#3c9c28" stroke-width="1.15"/>
<rect x="264.17" y="400.6" width="5.6" height="5.6" fill="none" stroke="#3c9c28" stroke-width="1.15"/>
<rect x="272" y="399.8" width="5.6" height="5.6" fill="none" stroke="#3c9c28" stroke-width="1.15"/>
<rect x="279.83" y="397.3" width="5.6" height="5.6" fill="none" stroke="#3c9c28" stroke-width="1.15"/>
<rect x="287.65" y="401.2" width="5.6" height="5.6" fill="none" stroke="#3c9c28" stroke-width="1.15"/>
<rect x="295.48" y="399" width="5.6" height="5.6" fill="none" stroke="#3c9c28" stroke-width="1.15"/>
<rect x="303.31" y="395.5" width="5.6" height="5.6" fill="none" stroke="#3c9c28" stroke-width="1.15"/>
<rect x="311.14" y="391.8" width="5.6" height="5.6" fill="none" stroke="#3c9c28" stroke-width="1.15"/>
<rect x="318.97" y="397.7" width="5.6" height="5.6" fill="none" stroke="#3c9c28" stroke-width="1.15"/>
<rect x="326.79" y="395.3" width="5.6" height="5.6" fill="none" stroke="#3c9c28" stroke-width="1.15"/>
<rect x="334.62" y="395.8" width="5.6" height="5.6" fill="none" stroke="#3c9c28" stroke-width="1.15"/>
<rect x="342.45" y="399.5" width="5.6" height="5.6" fill="none" stroke="#3c9c28" stroke-width="1.15"/>
<rect x="350.28" y="391.7" width="5.6" height="5.6" fill="none" stroke="#3c9c28" stroke-width="1.15"/>
<rect x="358.11" y="396.7" width="5.6" height="5.6" fill="none" stroke="#3c9c28" stroke-width="1.15"/>
</g>
<g clip-path="url(#cr)">
<polyline points="55.61,408.3 63.44,391.6 71.27,377.2 79.1,370.9 86.93,370.9 94.75,379.5 102.58,350.6 110.41,367.8 118.24,367.8 126.07,380.2 133.89,344.3 141.72,357.3 149.55,343.6 157.38,353.3 165.21,353.3 173.03,353.3 180.86,345.4 188.69,361.1 196.52,357.9 204.35,361.5 212.17,361.5 220,358.9 227.83,364.7 235.66,364.9 243.49,372.5 251.31,362.3 259.14,369.5 266.97,369 274.8,364.8 282.63,368.3 290.45,369.2 298.28,372.6 306.11,374.5 313.94,371.1 321.77,372.2 329.59,380.2 337.42,383.7 345.25,391.3 353.08,389.8 360.91,392.6" fill="none" stroke="#0000ee" stroke-width="1.3"/>
<path d="M55.61,400.3V416.3M54.01,400.3H57.21M54.01,416.3H57.21M63.44,383.6V399.6M61.84,383.6H65.04M61.84,399.6H65.04M71.27,369.2V385.2M69.67,369.2H72.87M69.67,385.2H72.87M79.1,362.9V378.9M77.5,362.9H80.7M77.5,378.9H80.7M86.93,362.9V378.9M85.33,362.9H88.53M85.33,378.9H88.53M94.75,371.5V387.5M93.15,371.5H96.35M93.15,387.5H96.35M102.58,343.6V357.6M100.98,343.6H104.18M100.98,357.6H104.18M110.41,360.8V374.8M108.81,360.8H112.01M108.81,374.8H112.01M118.24,360.8V374.8M116.64,360.8H119.84M116.64,374.8H119.84M126.07,373.2V387.2M124.47,373.2H127.67M124.47,387.2H127.67M133.89,337.3V351.3M132.29,337.3H135.49M132.29,351.3H135.49M141.72,350.3V364.3M140.12,350.3H143.32M140.12,364.3H143.32M149.55,336.6V350.6M147.95,336.6H151.15M147.95,350.6H151.15M157.38,347.8V358.8M155.78,347.8H158.98M155.78,358.8H158.98M165.21,347.8V358.8M163.61,347.8H166.81M163.61,358.8H166.81M173.03,347.8V358.8M171.43,347.8H174.63M171.43,358.8H174.63M180.86,339.9V350.9M179.26,339.9H182.46M179.26,350.9H182.46M188.69,356.6V365.6M187.09,356.6H190.29M187.09,365.6H190.29M196.52,353.4V362.4M194.92,353.4H198.12M194.92,362.4H198.12M204.35,357V366M202.75,357H205.95M202.75,366H205.95M212.17,357V366M210.57,357H213.77M210.57,366H213.77M220,354.4V363.4M218.4,354.4H221.6M218.4,363.4H221.6M227.83,360.2V369.2M226.23,360.2H229.43M226.23,369.2H229.43M235.66,360.4V369.4M234.06,360.4H237.26M234.06,369.4H237.26M243.49,368V377M241.89,368H245.09M241.89,377H245.09M251.31,359.1V365.5M249.71,359.1H252.91M249.71,365.5H252.91" fill="none" stroke="#0000ee" stroke-width="1.0"/>
<path d="M55.61,405.1 L58.61,410.6 L52.61,410.6 Z" fill="#0000ee"/>
<path d="M63.44,388.4 L66.44,393.9 L60.44,393.9 Z" fill="#0000ee"/>
<path d="M71.27,374 L74.27,379.5 L68.27,379.5 Z" fill="#0000ee"/>
<path d="M79.1,367.7 L82.1,373.2 L76.1,373.2 Z" fill="#0000ee"/>
<path d="M86.93,367.7 L89.93,373.2 L83.93,373.2 Z" fill="#0000ee"/>
<path d="M94.75,376.3 L97.75,381.8 L91.75,381.8 Z" fill="#0000ee"/>
<path d="M102.58,347.4 L105.58,352.9 L99.58,352.9 Z" fill="#0000ee"/>
<path d="M110.41,364.6 L113.41,370.1 L107.41,370.1 Z" fill="#0000ee"/>
<path d="M118.24,364.6 L121.24,370.1 L115.24,370.1 Z" fill="#0000ee"/>
<path d="M126.07,377 L129.07,382.5 L123.07,382.5 Z" fill="#0000ee"/>
<path d="M133.89,341.1 L136.89,346.6 L130.89,346.6 Z" fill="#0000ee"/>
<path d="M141.72,354.1 L144.72,359.6 L138.72,359.6 Z" fill="#0000ee"/>
<path d="M149.55,340.4 L152.55,345.9 L146.55,345.9 Z" fill="#0000ee"/>
<path d="M157.38,350.1 L160.38,355.6 L154.38,355.6 Z" fill="#0000ee"/>
<path d="M165.21,350.1 L168.21,355.6 L162.21,355.6 Z" fill="#0000ee"/>
<path d="M173.03,350.1 L176.03,355.6 L170.03,355.6 Z" fill="#0000ee"/>
<path d="M180.86,342.2 L183.86,347.7 L177.86,347.7 Z" fill="#0000ee"/>
<path d="M188.69,357.9 L191.69,363.4 L185.69,363.4 Z" fill="#0000ee"/>
<path d="M196.52,354.7 L199.52,360.2 L193.52,360.2 Z" fill="#0000ee"/>
<path d="M204.35,358.3 L207.35,363.8 L201.35,363.8 Z" fill="#0000ee"/>
<path d="M212.17,358.3 L215.17,363.8 L209.17,363.8 Z" fill="#0000ee"/>
<path d="M220,355.7 L223,361.2 L217,361.2 Z" fill="#0000ee"/>
<path d="M227.83,361.5 L230.83,367 L224.83,367 Z" fill="#0000ee"/>
<path d="M235.66,361.7 L238.66,367.2 L232.66,367.2 Z" fill="#0000ee"/>
<path d="M243.49,369.3 L246.49,374.8 L240.49,374.8 Z" fill="#0000ee"/>
<path d="M251.31,359.1 L254.31,364.6 L248.31,364.6 Z" fill="#0000ee"/>
<path d="M259.14,366.3 L262.14,371.8 L256.14,371.8 Z" fill="#0000ee"/>
<path d="M266.97,365.8 L269.97,371.3 L263.97,371.3 Z" fill="#0000ee"/>
<path d="M274.8,361.6 L277.8,367.1 L271.8,367.1 Z" fill="#0000ee"/>
<path d="M282.63,365.1 L285.63,370.6 L279.63,370.6 Z" fill="#0000ee"/>
<path d="M290.45,366 L293.45,371.5 L287.45,371.5 Z" fill="#0000ee"/>
<path d="M298.28,369.4 L301.28,374.9 L295.28,374.9 Z" fill="#0000ee"/>
<path d="M306.11,371.3 L309.11,376.8 L303.11,376.8 Z" fill="#0000ee"/>
<path d="M313.94,367.9 L316.94,373.4 L310.94,373.4 Z" fill="#0000ee"/>
<path d="M321.77,369 L324.77,374.5 L318.77,374.5 Z" fill="#0000ee"/>
<path d="M329.59,377 L332.59,382.5 L326.59,382.5 Z" fill="#0000ee"/>
<path d="M337.42,380.5 L340.42,386 L334.42,386 Z" fill="#0000ee"/>
<path d="M345.25,388.1 L348.25,393.6 L342.25,393.6 Z" fill="#0000ee"/>
<path d="M353.08,386.6 L356.08,392.1 L350.08,392.1 Z" fill="#0000ee"/>
<path d="M360.91,389.4 L363.91,394.9 L357.91,394.9 Z" fill="#0000ee"/>
</g>
<g clip-path="url(#cr)">
<polyline points="55.61,434 63.44,446.5 71.27,425.4 79.1,419.2 86.93,431.7 94.75,448.5 102.58,411.4 110.41,430 118.24,433.5 126.07,439.3 133.89,427.1 141.72,441.2 149.55,416.8 157.38,434.7 165.21,428.5 173.03,428.5 180.86,420.8 188.69,431.5 196.52,428.9 204.35,418 212.17,430.9 220,435.1 227.83,430.9 235.66,434 243.49,426.1 251.31,425.3 259.14,432.3 266.97,432.3 274.8,422.2 282.63,424.5 290.45,425.3 298.28,414.3 306.11,415.9 313.94,414.8 321.77,417.5 329.59,417.4 337.42,415.4 345.25,415.1 353.08,415.1 360.91,420.3" fill="none" stroke="#1797bf" stroke-width="1.1" stroke-dasharray="3,1.5,1,1.5"/>
<path d="M55.61,425V443M54.01,425H57.21M54.01,443H57.21M63.44,437.5V455.5M61.84,437.5H65.04M61.84,455.5H65.04M71.27,416.4V434.4M69.67,416.4H72.87M69.67,434.4H72.87M79.1,410.2V428.2M77.5,410.2H80.7M77.5,428.2H80.7M86.93,422.7V440.7M85.33,422.7H88.53M85.33,440.7H88.53M94.75,439.5V457.5M93.15,439.5H96.35M93.15,457.5H96.35M102.58,402.4V420.4M100.98,402.4H104.18M100.98,420.4H104.18M110.41,421V439M108.81,421H112.01M108.81,439H112.01M118.24,424.5V442.5M116.64,424.5H119.84M116.64,442.5H119.84M126.07,430.3V448.3M124.47,430.3H127.67M124.47,448.3H127.67M133.89,418.1V436.1M132.29,418.1H135.49M132.29,436.1H135.49M141.72,432.2V450.2M140.12,432.2H143.32M140.12,450.2H143.32M149.55,409.8V423.8M147.95,409.8H151.15M147.95,423.8H151.15M157.38,427.7V441.7M155.78,427.7H158.98M155.78,441.7H158.98M165.21,421.5V435.5M163.61,421.5H166.81M163.61,435.5H166.81M173.03,421.5V435.5M171.43,421.5H174.63M171.43,435.5H174.63M180.86,413.8V427.8M179.26,413.8H182.46M179.26,427.8H182.46M188.69,424.5V438.5M187.09,424.5H190.29M187.09,438.5H190.29M196.52,421.9V435.9M194.92,421.9H198.12M194.92,435.9H198.12M204.35,413V423M202.75,413H205.95M202.75,423H205.95M212.17,425.9V435.9M210.57,425.9H213.77M210.57,435.9H213.77M220,430.1V440.1M218.4,430.1H221.6M218.4,440.1H221.6M227.83,425.9V435.9M226.23,425.9H229.43M226.23,435.9H229.43M235.66,429V439M234.06,429H237.26M234.06,439H237.26M243.49,421.1V431.1M241.89,421.1H245.09M241.89,431.1H245.09M251.31,420.3V430.3M249.71,420.3H252.91M249.71,430.3H252.91M259.14,429.6V435M257.54,429.6H260.74M257.54,435H260.74M266.97,429.6V435M265.37,429.6H268.57M265.37,435H268.57M274.8,419.5V424.9M273.2,419.5H276.4M273.2,424.9H276.4M282.63,421.8V427.2M281.03,421.8H284.23M281.03,427.2H284.23M290.45,422.6V428M288.85,422.6H292.05M288.85,428H292.05M298.28,411.6V417M296.68,411.6H299.88M296.68,417H299.88M306.11,413.2V418.6M304.51,413.2H307.71M304.51,418.6H307.71M313.94,412.1V417.5M312.34,412.1H315.54M312.34,417.5H315.54M321.77,414.8V420.2M320.17,414.8H323.37M320.17,420.2H323.37M329.59,414.7V420.1M327.99,414.7H331.19M327.99,420.1H331.19M337.42,412.7V418.1M335.82,412.7H339.02M335.82,418.1H339.02M345.25,412.4V417.8M343.65,412.4H346.85M343.65,417.8H346.85M353.08,412.4V417.8M351.48,412.4H354.68M351.48,417.8H354.68M360.91,417.6V423M359.31,417.6H362.51M359.31,423H362.51" fill="none" stroke="#1797bf" stroke-width="1.0" stroke-dasharray="3,1.5,1,1.5"/>
<path d="M55.61,437.2 L58.61,431.7 L52.61,431.7 Z" fill="#1797bf"/>
<path d="M63.44,449.7 L66.44,444.2 L60.44,444.2 Z" fill="#1797bf"/>
<path d="M71.27,428.6 L74.27,423.1 L68.27,423.1 Z" fill="#1797bf"/>
<path d="M79.1,422.4 L82.1,416.9 L76.1,416.9 Z" fill="#1797bf"/>
<path d="M86.93,434.9 L89.93,429.4 L83.93,429.4 Z" fill="#1797bf"/>
<path d="M94.75,451.7 L97.75,446.2 L91.75,446.2 Z" fill="#1797bf"/>
<path d="M102.58,414.6 L105.58,409.1 L99.58,409.1 Z" fill="#1797bf"/>
<path d="M110.41,433.2 L113.41,427.7 L107.41,427.7 Z" fill="#1797bf"/>
<path d="M118.24,436.7 L121.24,431.2 L115.24,431.2 Z" fill="#1797bf"/>
<path d="M126.07,442.5 L129.07,437 L123.07,437 Z" fill="#1797bf"/>
<path d="M133.89,430.3 L136.89,424.8 L130.89,424.8 Z" fill="#1797bf"/>
<path d="M141.72,444.4 L144.72,438.9 L138.72,438.9 Z" fill="#1797bf"/>
<path d="M149.55,420 L152.55,414.5 L146.55,414.5 Z" fill="#1797bf"/>
<path d="M157.38,437.9 L160.38,432.4 L154.38,432.4 Z" fill="#1797bf"/>
<path d="M165.21,431.7 L168.21,426.2 L162.21,426.2 Z" fill="#1797bf"/>
<path d="M173.03,431.7 L176.03,426.2 L170.03,426.2 Z" fill="#1797bf"/>
<path d="M180.86,424 L183.86,418.5 L177.86,418.5 Z" fill="#1797bf"/>
<path d="M188.69,434.7 L191.69,429.2 L185.69,429.2 Z" fill="#1797bf"/>
<path d="M196.52,432.1 L199.52,426.6 L193.52,426.6 Z" fill="#1797bf"/>
<path d="M204.35,421.2 L207.35,415.7 L201.35,415.7 Z" fill="#1797bf"/>
<path d="M212.17,434.1 L215.17,428.6 L209.17,428.6 Z" fill="#1797bf"/>
<path d="M220,438.3 L223,432.8 L217,432.8 Z" fill="#1797bf"/>
<path d="M227.83,434.1 L230.83,428.6 L224.83,428.6 Z" fill="#1797bf"/>
<path d="M235.66,437.2 L238.66,431.7 L232.66,431.7 Z" fill="#1797bf"/>
<path d="M243.49,429.3 L246.49,423.8 L240.49,423.8 Z" fill="#1797bf"/>
<path d="M251.31,428.5 L254.31,423 L248.31,423 Z" fill="#1797bf"/>
<path d="M259.14,435.5 L262.14,430 L256.14,430 Z" fill="#1797bf"/>
<path d="M266.97,435.5 L269.97,430 L263.97,430 Z" fill="#1797bf"/>
<path d="M274.8,425.4 L277.8,419.9 L271.8,419.9 Z" fill="#1797bf"/>
<path d="M282.63,427.7 L285.63,422.2 L279.63,422.2 Z" fill="#1797bf"/>
<path d="M290.45,428.5 L293.45,423 L287.45,423 Z" fill="#1797bf"/>
<path d="M298.28,417.5 L301.28,412 L295.28,412 Z" fill="#1797bf"/>
<path d="M306.11,419.1 L309.11,413.6 L303.11,413.6 Z" fill="#1797bf"/>
<path d="M313.94,418 L316.94,412.5 L310.94,412.5 Z" fill="#1797bf"/>
<path d="M321.77,420.7 L324.77,415.2 L318.77,415.2 Z" fill="#1797bf"/>
<path d="M329.59,420.6 L332.59,415.1 L326.59,415.1 Z" fill="#1797bf"/>
<path d="M337.42,418.6 L340.42,413.1 L334.42,413.1 Z" fill="#1797bf"/>
<path d="M345.25,418.3 L348.25,412.8 L342.25,412.8 Z" fill="#1797bf"/>
<path d="M353.08,418.3 L356.08,412.8 L350.08,412.8 Z" fill="#1797bf"/>
<path d="M360.91,423.5 L363.91,418 L357.91,418 Z" fill="#1797bf"/>
</g>
<g clip-path="url(#cr)">
<polyline points="55.61,472.7 63.44,467 71.27,500 79.1,471.1 86.93,500 94.75,500 102.58,453.3 110.41,473.1 118.24,451 126.07,474.7 133.89,471.9 141.72,466.6 149.55,430 157.38,468.1 165.21,446 173.03,453.3 180.86,460.9 188.69,467.3 196.52,450 204.35,450.1 212.17,442.5 220,456 227.83,438.9 235.66,451.5 243.49,455.5 251.31,431.1 259.14,434.2 266.97,426.1 274.8,426.1 282.63,411.1 290.45,410.8 298.28,400.9 306.11,400.5 313.94,384.7 321.77,386.2 329.59,380.4 337.42,380.6 345.25,389 353.08,381.2 360.91,390.6" fill="none" stroke="#ff0000" stroke-width="1.1" stroke-dasharray="2,1"/>
<path d="M55.61,457.7V487.7M54.61,457.7H56.61M54.61,487.7H56.61M63.44,452V482M62.44,452H64.44M62.44,482H64.44M79.1,456.1V486.1M78.1,456.1H80.1M78.1,486.1H80.1M102.58,438.3V468.3M101.58,438.3H103.58M101.58,468.3H103.58M110.41,458.1V488.1M109.41,458.1H111.41M109.41,488.1H111.41M118.24,436V466M117.24,436H119.24M117.24,466H119.24M126.07,459.7V489.7M125.07,459.7H127.07M125.07,489.7H127.07M133.89,456.9V486.9M132.89,456.9H134.89M132.89,486.9H134.89M141.72,451.6V481.6M140.72,451.6H142.72M140.72,481.6H142.72M149.55,417V443M148.55,417H150.55M148.55,443H150.55M157.38,455.1V481.1M156.38,455.1H158.38M156.38,481.1H158.38M165.21,433V459M164.21,433H166.21M164.21,459H166.21M173.03,440.3V466.3M172.03,440.3H174.03M172.03,466.3H174.03M180.86,447.9V473.9M179.86,447.9H181.86M179.86,473.9H181.86M188.69,454.3V480.3M187.69,454.3H189.69M187.69,480.3H189.69M196.52,439V461M195.52,439H197.52M195.52,461H197.52M204.35,439.1V461.1M203.35,439.1H205.35M203.35,461.1H205.35M212.17,431.5V453.5M211.17,431.5H213.17M211.17,453.5H213.17M220,445V467M219,445H221M219,467H221M227.83,427.9V449.9M226.83,427.9H228.83M226.83,449.9H228.83M235.66,440.5V462.5M234.66,440.5H236.66M234.66,462.5H236.66M243.49,444.5V466.5M242.49,444.5H244.49M242.49,466.5H244.49M251.31,425.1V437.1M250.31,425.1H252.31M250.31,437.1H252.31M259.14,428.2V440.2M258.14,428.2H260.14M258.14,440.2H260.14M266.97,420.1V432.1M265.97,420.1H267.97M265.97,432.1H267.97M274.8,420.1V432.1M273.8,420.1H275.8M273.8,432.1H275.8M282.63,406.6V415.6M281.63,406.6H283.63M281.63,415.6H283.63M290.45,406.3V415.3M289.45,406.3H291.45M289.45,415.3H291.45M298.28,397.9V403.9M297.28,397.9H299.28M297.28,403.9H299.28M306.11,397.5V403.5M305.11,397.5H307.11M305.11,403.5H307.11M313.94,381.7V387.7M312.94,381.7H314.94M312.94,387.7H314.94M321.77,383.2V389.2M320.77,383.2H322.77M320.77,389.2H322.77M329.59,377.4V383.4M328.59,377.4H330.59M328.59,383.4H330.59M337.42,377.6V383.6M336.42,377.6H338.42M336.42,383.6H338.42M345.25,386V392M344.25,386H346.25M344.25,392H346.25M353.08,378.2V384.2M352.08,378.2H354.08M352.08,384.2H354.08M360.91,387.6V393.6M359.91,387.6H361.91M359.91,393.6H361.91" fill="none" stroke="#ff0000" stroke-width="0.9" stroke-dasharray="1,1"/>
<path d="M55.61,469 L58.11,472.7 L55.61,476.4 L53.11,472.7 Z" fill="#ff0000"/>
<path d="M63.44,463.3 L65.94,467 L63.44,470.7 L60.94,467 Z" fill="#ff0000"/>
<path d="M79.1,467.4 L81.6,471.1 L79.1,474.8 L76.6,471.1 Z" fill="#ff0000"/>
<path d="M102.58,449.6 L105.08,453.3 L102.58,457 L100.08,453.3 Z" fill="#ff0000"/>
<path d="M110.41,469.4 L112.91,473.1 L110.41,476.8 L107.91,473.1 Z" fill="#ff0000"/>
<path d="M118.24,447.3 L120.74,451 L118.24,454.7 L115.74,451 Z" fill="#ff0000"/>
<path d="M126.07,471 L128.57,474.7 L126.07,478.4 L123.57,474.7 Z" fill="#ff0000"/>
<path d="M133.89,468.2 L136.39,471.9 L133.89,475.6 L131.39,471.9 Z" fill="#ff0000"/>
<path d="M141.72,462.9 L144.22,466.6 L141.72,470.3 L139.22,466.6 Z" fill="#ff0000"/>
<path d="M149.55,426.3 L152.05,430 L149.55,433.7 L147.05,430 Z" fill="#ff0000"/>
<path d="M157.38,464.4 L159.88,468.1 L157.38,471.8 L154.88,468.1 Z" fill="#ff0000"/>
<path d="M165.21,442.3 L167.71,446 L165.21,449.7 L162.71,446 Z" fill="#ff0000"/>
<path d="M173.03,449.6 L175.53,453.3 L173.03,457 L170.53,453.3 Z" fill="#ff0000"/>
<path d="M180.86,457.2 L183.36,460.9 L180.86,464.6 L178.36,460.9 Z" fill="#ff0000"/>
<path d="M188.69,463.6 L191.19,467.3 L188.69,471 L186.19,467.3 Z" fill="#ff0000"/>
<path d="M196.52,446.3 L199.02,450 L196.52,453.7 L194.02,450 Z" fill="#ff0000"/>
<path d="M204.35,446.4 L206.85,450.1 L204.35,453.8 L201.85,450.1 Z" fill="#ff0000"/>
<path d="M212.17,438.8 L214.67,442.5 L212.17,446.2 L209.67,442.5 Z" fill="#ff0000"/>
<path d="M220,452.3 L222.5,456 L220,459.7 L217.5,456 Z" fill="#ff0000"/>
<path d="M227.83,435.2 L230.33,438.9 L227.83,442.6 L225.33,438.9 Z" fill="#ff0000"/>
<path d="M235.66,447.8 L238.16,451.5 L235.66,455.2 L233.16,451.5 Z" fill="#ff0000"/>
<path d="M243.49,451.8 L245.99,455.5 L243.49,459.2 L240.99,455.5 Z" fill="#ff0000"/>
<path d="M251.31,427.4 L253.81,431.1 L251.31,434.8 L248.81,431.1 Z" fill="#ff0000"/>
<path d="M259.14,430.5 L261.64,434.2 L259.14,437.9 L256.64,434.2 Z" fill="#ff0000"/>
<path d="M266.97,422.4 L269.47,426.1 L266.97,429.8 L264.47,426.1 Z" fill="#ff0000"/>
<path d="M274.8,422.4 L277.3,426.1 L274.8,429.8 L272.3,426.1 Z" fill="#ff0000"/>
<path d="M282.63,407.4 L285.13,411.1 L282.63,414.8 L280.13,411.1 Z" fill="#ff0000"/>
<path d="M290.45,407.1 L292.95,410.8 L290.45,414.5 L287.95,410.8 Z" fill="#ff0000"/>
<path d="M298.28,397.2 L300.78,400.9 L298.28,404.6 L295.78,400.9 Z" fill="#ff0000"/>
<path d="M306.11,396.8 L308.61,400.5 L306.11,404.2 L303.61,400.5 Z" fill="#ff0000"/>
<path d="M313.94,381 L316.44,384.7 L313.94,388.4 L311.44,384.7 Z" fill="#ff0000"/>
<path d="M321.77,382.5 L324.27,386.2 L321.77,389.9 L319.27,386.2 Z" fill="#ff0000"/>
<path d="M329.59,376.7 L332.09,380.4 L329.59,384.1 L327.09,380.4 Z" fill="#ff0000"/>
<path d="M337.42,376.9 L339.92,380.6 L337.42,384.3 L334.92,380.6 Z" fill="#ff0000"/>
<path d="M345.25,385.3 L347.75,389 L345.25,392.7 L342.75,389 Z" fill="#ff0000"/>
<path d="M353.08,377.5 L355.58,381.2 L353.08,384.9 L350.58,381.2 Z" fill="#ff0000"/>
<path d="M360.91,386.9 L363.41,390.6 L360.91,394.3 L358.41,390.6 Z" fill="#ff0000"/>
</g>
<path d="M51.7,17.7L51.7,26.2M51.7,317.6L51.7,309.1M51.7,317.6L51.7,322.4M51.7,477.9L51.7,473.1M61.67,17.7L61.67,20.1M61.67,317.6L61.67,315.2M61.67,317.6L61.67,319M61.67,477.9L61.67,476.5M71.63,17.7L71.63,21.7M71.63,317.6L71.63,313.6M71.63,317.6L71.63,320M71.63,477.9L71.63,475.5M81.6,17.7L81.6,20.1M81.6,317.6L81.6,315.2M81.6,317.6L81.6,319M81.6,477.9L81.6,476.5M91.57,17.7L91.57,21.7M91.57,317.6L91.57,313.6M91.57,317.6L91.57,320M91.57,477.9L91.57,475.5M101.53,17.7L101.53,20.1M101.53,317.6L101.53,315.2M101.53,317.6L101.53,319M101.53,477.9L101.53,476.5M111.5,17.7L111.5,21.7M111.5,317.6L111.5,313.6M111.5,317.6L111.5,320M111.5,477.9L111.5,475.5M121.47,17.7L121.47,20.1M121.47,317.6L121.47,315.2M121.47,317.6L121.47,319M121.47,477.9L121.47,476.5M131.44,17.7L131.44,21.7M131.44,317.6L131.44,313.6M131.44,317.6L131.44,320M131.44,477.9L131.44,475.5M141.4,17.7L141.4,20.1M141.4,317.6L141.4,315.2M141.4,317.6L141.4,319M141.4,477.9L141.4,476.5M151.37,17.7L151.37,26.2M151.37,317.6L151.37,309.1M151.37,317.6L151.37,322.4M151.37,477.9L151.37,473.1M161.34,17.7L161.34,20.1M161.34,317.6L161.34,315.2M161.34,317.6L161.34,319M161.34,477.9L161.34,476.5M171.3,17.7L171.3,21.7M171.3,317.6L171.3,313.6M171.3,317.6L171.3,320M171.3,477.9L171.3,475.5M181.27,17.7L181.27,20.1M181.27,317.6L181.27,315.2M181.27,317.6L181.27,319M181.27,477.9L181.27,476.5M191.24,17.7L191.24,21.7M191.24,317.6L191.24,313.6M191.24,317.6L191.24,320M191.24,477.9L191.24,475.5M201.2,17.7L201.2,20.1M201.2,317.6L201.2,315.2M201.2,317.6L201.2,319M201.2,477.9L201.2,476.5M211.17,17.7L211.17,21.7M211.17,317.6L211.17,313.6M211.17,317.6L211.17,320M211.17,477.9L211.17,475.5M221.14,17.7L221.14,20.1M221.14,317.6L221.14,315.2M221.14,317.6L221.14,319M221.14,477.9L221.14,476.5M231.11,17.7L231.11,21.7M231.11,317.6L231.11,313.6M231.11,317.6L231.11,320M231.11,477.9L231.11,475.5M241.07,17.7L241.07,20.1M241.07,317.6L241.07,315.2M241.07,317.6L241.07,319M241.07,477.9L241.07,476.5M251.04,17.7L251.04,26.2M251.04,317.6L251.04,309.1M251.04,317.6L251.04,322.4M251.04,477.9L251.04,473.1M261.01,17.7L261.01,20.1M261.01,317.6L261.01,315.2M261.01,317.6L261.01,319M261.01,477.9L261.01,476.5M270.97,17.7L270.97,21.7M270.97,317.6L270.97,313.6M270.97,317.6L270.97,320M270.97,477.9L270.97,475.5M280.94,17.7L280.94,20.1M280.94,317.6L280.94,315.2M280.94,317.6L280.94,319M280.94,477.9L280.94,476.5M290.91,17.7L290.91,21.7M290.91,317.6L290.91,313.6M290.91,317.6L290.91,320M290.91,477.9L290.91,475.5M300.88,17.7L300.88,20.1M300.88,317.6L300.88,315.2M300.88,317.6L300.88,319M300.88,477.9L300.88,476.5M310.84,17.7L310.84,21.7M310.84,317.6L310.84,313.6M310.84,317.6L310.84,320M310.84,477.9L310.84,475.5M320.81,17.7L320.81,20.1M320.81,317.6L320.81,315.2M320.81,317.6L320.81,319M320.81,477.9L320.81,476.5M330.78,17.7L330.78,21.7M330.78,317.6L330.78,313.6M330.78,317.6L330.78,320M330.78,477.9L330.78,475.5M340.74,17.7L340.74,20.1M340.74,317.6L340.74,315.2M340.74,317.6L340.74,319M340.74,477.9L340.74,476.5M350.71,17.7L350.71,26.2M350.71,317.6L350.71,309.1M350.71,317.6L350.71,322.4M350.71,477.9L350.71,473.1M360.68,17.7L360.68,20.1M360.68,317.6L360.68,315.2M360.68,317.6L360.68,319M360.68,477.9L360.68,476.5M45.6,307L51.1,307M371.06,307L365.56,307M45.6,296.1L51.1,296.1M371.06,296.1L365.56,296.1M45.6,287.65L51.1,287.65M371.06,287.65L365.56,287.65M45.6,280.75L51.1,280.75M371.06,280.75L365.56,280.75M45.6,274.91L51.1,274.91M371.06,274.91L365.56,274.91M45.6,269.85L51.1,269.85M371.06,269.85L365.56,269.85M45.6,265.39L51.1,265.39M371.06,265.39L365.56,265.39M45.6,261.4L56.6,261.4M371.06,261.4L360.06,261.4M45.6,235.15L51.1,235.15M371.06,235.15L365.56,235.15M45.6,219.8L51.1,219.8M371.06,219.8L365.56,219.8M45.6,208.9L51.1,208.9M371.06,208.9L365.56,208.9M45.6,200.45L51.1,200.45M371.06,200.45L365.56,200.45M45.6,193.55L51.1,193.55M371.06,193.55L365.56,193.55M45.6,187.71L51.1,187.71M371.06,187.71L365.56,187.71M45.6,182.65L51.1,182.65M371.06,182.65L365.56,182.65M45.6,178.19L51.1,178.19M371.06,178.19L365.56,178.19M45.6,174.2L56.6,174.2M371.06,174.2L360.06,174.2M45.6,147.95L51.1,147.95M371.06,147.95L365.56,147.95M45.6,132.6L51.1,132.6M371.06,132.6L365.56,132.6M45.6,121.7L51.1,121.7M371.06,121.7L365.56,121.7M45.6,113.25L51.1,113.25M371.06,113.25L365.56,113.25M45.6,106.35L51.1,106.35M371.06,106.35L365.56,106.35M45.6,100.51L51.1,100.51M371.06,100.51L365.56,100.51M45.6,95.45L51.1,95.45M371.06,95.45L365.56,95.45M45.6,90.99L51.1,90.99M371.06,90.99L365.56,90.99M45.6,87L56.6,87M371.06,87L360.06,87M45.6,60.75L51.1,60.75M371.06,60.75L365.56,60.75M45.6,45.4L51.1,45.4M371.06,45.4L365.56,45.4M45.6,34.5L51.1,34.5M371.06,34.5L365.56,34.5M45.6,26.05L51.1,26.05M371.06,26.05L365.56,26.05M45.6,19.15L51.1,19.15M371.06,19.15L365.56,19.15M45.6,458.89L52.6,458.89M371.06,458.89L364.06,458.89M45.6,442.85L50.6,442.85M371.06,442.85L366.06,442.85M45.6,429.28L50.6,429.28M371.06,429.28L366.06,429.28M45.6,417.53L50.6,417.53M371.06,417.53L366.06,417.53M45.6,407.17L50.6,407.17M371.06,407.17L366.06,407.17M45.6,397.9L52.6,397.9M371.06,397.9L364.06,397.9M45.6,389.51L50.6,389.51M371.06,389.51L366.06,389.51M45.6,381.86L50.6,381.86M371.06,381.86L366.06,381.86M45.6,374.82L50.6,374.82M371.06,374.82L366.06,374.82M45.6,368.29L50.6,368.29M371.06,368.29L366.06,368.29M45.6,362.22L50.6,362.22M371.06,362.22L366.06,362.22M45.6,356.55L50.6,356.55M371.06,356.55L366.06,356.55M45.6,351.21L50.6,351.21M371.06,351.21L366.06,351.21M45.6,346.18L50.6,346.18M371.06,346.18L366.06,346.18M45.6,341.42L50.6,341.42M371.06,341.42L366.06,341.42M45.6,336.91L52.6,336.91M371.06,336.91L364.06,336.91M45.6,332.62L50.6,332.62M371.06,332.62L366.06,332.62M45.6,328.53L50.6,328.53M371.06,328.53L366.06,328.53M45.6,324.61L50.6,324.61M371.06,324.61L366.06,324.61M45.6,320.87L50.6,320.87M371.06,320.87L366.06,320.87" stroke="#000" stroke-width="1" fill="none"/>
<path d="M45.6,17.7H371.06V477.9H45.6Z M45.6,317.6H371.06" fill="none" stroke="#000" stroke-width="1.25"/>
<line x1="64" y1="62" x2="88" y2="62" fill="none" stroke="#ad5f1c" stroke-width="1.0" stroke-dasharray="2.2,1.6" opacity="0.7"/>
<circle cx="76.5" cy="62" r="2.55" fill="none" stroke="#ad5f1c" stroke-width="1.25"/>
<line x1="64" y1="75.08" x2="88" y2="75.08" fill="none" stroke="#3c9c28" stroke-width="1.0" stroke-dasharray="2.2,1.6" opacity="0.7"/>
<rect x="73.7" y="72.28" width="5.6" height="5.6" fill="none" stroke="#3c9c28" stroke-width="1.15"/>
<line x1="64" y1="88.16" x2="88" y2="88.16" fill="none" stroke="#0000ee" stroke-width="1.0" opacity="0.7"/>
<path d="M76.5,84.96 L79.5,90.46 L73.5,90.46 Z" fill="#0000ee"/>
<line x1="64" y1="101.24" x2="88" y2="101.24" fill="none" stroke="#1797bf" stroke-width="1.0" stroke-dasharray="3,1.5,1,1.5" opacity="0.7"/>
<path d="M76.5,104.44 L79.5,98.94 L73.5,98.94 Z" fill="#1797bf"/>
<line x1="64" y1="114.32" x2="88" y2="114.32" fill="none" stroke="#ff0000" stroke-width="1.0" stroke-dasharray="1,1" opacity="0.7"/>
<path d="M76.5,110.62 L79,114.32 L76.5,118.02 L74,114.32 Z" fill="#ff0000"/>
<text x="50.6" y="13.7" font-size="12.6" text-anchor="start" fill="#000" textLength="72.3" lengthAdjust="spacingAndGlyphs">7000 GeV pp</text>
<text x="273.3" y="13.7" font-size="12.6" text-anchor="start" fill="#000" textLength="94.2" lengthAdjust="spacingAndGlyphs">Top (parton level)</text>
<text x="163.3" y="42.9" font-size="10.6" text-anchor="start" fill="#000" textLength="92" lengthAdjust="spacingAndGlyphs">&#916;&#981; (ttbar) (pTtt &gt; 50)</text>
<text x="94.3" y="65.2" font-size="9.6" text-anchor="start" fill="#000" textLength="93.8" lengthAdjust="spacingAndGlyphs">Herwig++ 2.7.1 default</text>
<text x="94.3" y="78.05" font-size="9.6" text-anchor="start" fill="#000" textLength="83.6" lengthAdjust="spacingAndGlyphs">Herwig 7.2.1 default</text>
<text x="94.3" y="90.9" font-size="9.6" text-anchor="start" fill="#000" textLength="83.6" lengthAdjust="spacingAndGlyphs">Pythia 8.315 default</text>
<text x="94.3" y="103.75" font-size="9.6" text-anchor="start" fill="#000" textLength="110.3" lengthAdjust="spacingAndGlyphs">Pythia 8.315 vincia-default</text>
<text x="94.3" y="116.6" font-size="9.6" text-anchor="start" fill="#000" textLength="84.3" lengthAdjust="spacingAndGlyphs">Sherpa 2.2.9 default</text>
<text x="173.8" y="302.2" font-size="9" text-anchor="start" fill="#aaa" textLength="66.8" lengthAdjust="spacingAndGlyphs">(MC_FBA_TTBAR)</text>
<path d="M25.95,91.7H27.2V83.8H25.95Z M24.2,85.3L26.1,83.8L26.1,85.2L24.25,86.3Z" fill="#000"/>
<text x="29.16" y="91.8" font-size="11.2" text-anchor="start" fill="#000">0</text>
<text x="34.85" y="87.4" font-size="7" text-anchor="start" fill="#000">2</text>
<path d="M29.85,178.7H31.1V171H29.85Z M28.1,172.5L30,171L30,172.4L28.15,173.5Z" fill="#000"/>
<text x="34.06" y="178.7" font-size="11.2" text-anchor="start" fill="#000">0</text>
<path d="M38.25,265.8H39.5V258.1H38.25Z M36.5,259.6L38.4,258.1L38.4,259.5L36.55,260.6Z" fill="#000"/>
<text x="31.6" y="340.8" font-size="11.9" text-anchor="start" fill="#000">2</text>
<text x="373.94" y="340.8" font-size="11.9" text-anchor="start" fill="#000">2</text>
<path d="M35.65,402H36.9V393.9H35.65Z M33.9,395.4L35.8,393.9L35.8,395.3L33.95,396.4Z" fill="#000"/>
<path d="M376.65,402.3H377.9V394.2H376.65Z M374.9,395.7L376.8,394.2L376.8,395.6L374.95,396.7Z" fill="#000"/>
<text x="21.84" y="461.9" font-size="11.9" text-anchor="start" fill="#000">0.5</text>
<text x="373.94" y="461.7" font-size="11.9" text-anchor="start" fill="#000">0.5</text>
<text x="47.74" y="488.6" font-size="11.7" text-anchor="start" fill="#000">0</text>
<path d="M153.05,488.6H154.3V480.6H153.05Z M151.3,482.1L153.2,480.6L153.2,482L151.35,483.1Z" fill="#000"/>
<text x="247.8" y="488.5" font-size="11.7" text-anchor="start" fill="#000">2</text>
<text x="347.65" y="488.6" font-size="11.7" text-anchor="start" fill="#000">3</text>
<text transform="translate(380.3,127.2) rotate(-90)" font-size="9.5" fill="#666" textLength="109" lengthAdjust="spacingAndGlyphs">Rivet 4.1.0, &#8805; 100k events</text>
<text transform="translate(381,313.2) rotate(-90)" font-size="9.5" fill="#666" textLength="146.5" lengthAdjust="spacingAndGlyphs">mcplots.cern.ch [arXiv:2401.10621]</text>
<text transform="translate(17.5,457.7) rotate(-90)" font-size="9.6" fill="#000" textLength="123.4" lengthAdjust="spacingAndGlyphs">Ratio to Herwig++ 2.7.1 default</text>
</svg>
</body></html>
